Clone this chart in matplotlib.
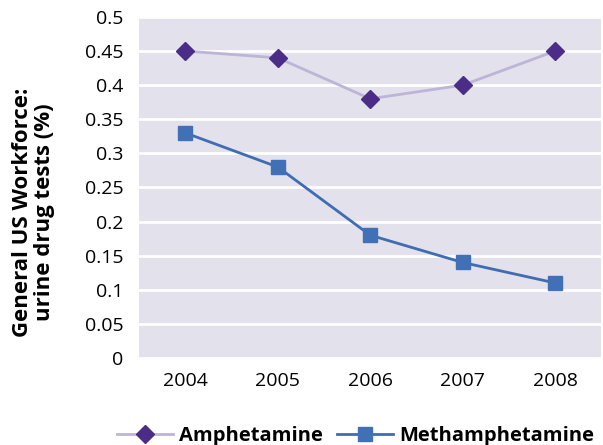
import matplotlib
matplotlib.use('Agg')
import matplotlib.pyplot as plt

years = ['2004', '2005', '2006', '2007', '2008']
amphetamine = [0.45, 0.44, 0.38, 0.40, 0.45]
methamphetamine = [0.33, 0.28, 0.18, 0.14, 0.11]
y_ticks = [0, 0.05, 0.1, 0.15, 0.2, 0.25, 0.3, 0.35, 0.4, 0.45, 0.5]
y_labels = ['0', '0.05', '0.1', '0.15', '0.2', '0.25', '0.3', '0.35', '0.4', '0.45', '0.5']

plt.rcParams['font.family'] = ['Open Sans', 'DejaVu Sans']

fig = plt.figure(figsize=(6.03, 4.45), dpi=100)
ax = fig.add_axes([0.2305, 0.1955, 0.767, 0.7665])
ax.set_facecolor('#E3E1EC')

x = list(range(len(years)))
ax.plot(x, amphetamine, color='#BDB5D6', linewidth=2, marker='D', markersize=9,
        markerfacecolor='#4B2C86', markeredgecolor='#4B2C86', label='Amphetamine', zorder=3)
ax.plot(x, methamphetamine, color='#3F6DB2', linewidth=2, marker='s', markersize=10,
        markerfacecolor='#4270B6', markeredgecolor='#4270B6', label='Methamphetamine', zorder=3)

ax.set_xlim(-0.5, 4.5)
ax.set_ylim(0, 0.5)
ax.set_xticks(x)
ax.set_xticklabels(years, fontsize=14)
ax.set_yticks(y_ticks)
ax.set_yticklabels(y_labels, fontsize=14)
ax.tick_params(axis='y', length=0, pad=11)
ax.tick_params(axis='x', length=0, pad=10)
ax.grid(axis='y', color='white', linewidth=2)
ax.set_axisbelow(True)
for s in ax.spines.values():
    s.set_visible(False)

ax.set_ylabel('General US Workforce:\nurine drug tests (%)', fontsize=16,
              fontweight='bold', linespacing=1.05)
ax.yaxis.set_label_coords(-0.181, 0.428)

leg = ax.legend(loc='center', bbox_to_anchor=(0.468, -0.228), ncol=2, frameon=False,
                prop={'size': 14.5, 'weight': 'bold'}, handlelength=2.8, columnspacing=0.7,
                handletextpad=0.3, borderaxespad=0)

fig.savefig('out.png', dpi=100)
